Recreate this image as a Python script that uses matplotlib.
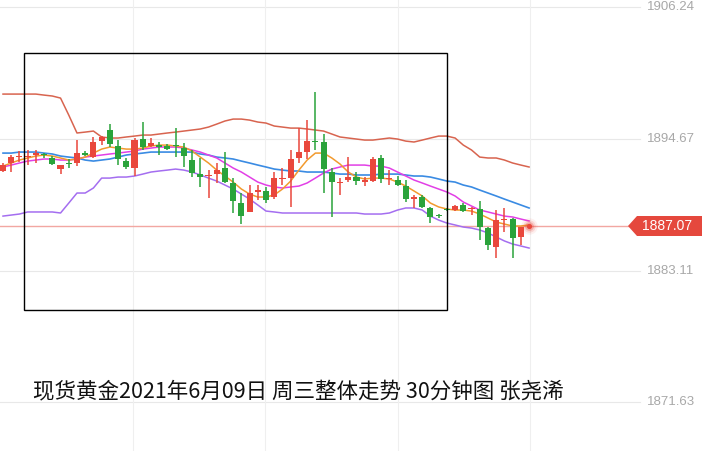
import matplotlib
matplotlib.use("Agg")
import matplotlib.pyplot as plt
from matplotlib.patches import Rectangle, Polygon

plt.rcParams['font.family'] = ['Noto Sans CJK SC', 'DejaVu Sans']

# 30分钟K线 (开, 收, 高, 低)
opens = [1891.87, 1892.57, 1893.07, 1893.09, 1893.27, 1893.27, 1893.01, 1892.04, 1892.57, 1892.57,
         1893.44, 1893.09, 1894.49, 1895.46, 1894.06, 1892.74, 1892.13, 1894.67, 1894.06, 1894.14,
         1894.06, 1894.14, 1893.88, 1892.83, 1891.60, 1891.40, 1891.60, 1892.13, 1890.82, 1889.07,
         1888.28, 1890.03, 1890.12, 1889.59, 1891.14, 1891.25, 1893.01, 1893.53, 1894.41, 1894.41,
         1891.78, 1890.86, 1891.08, 1891.34, 1890.95, 1890.99, 1893.01, 1891.13, 1891.08, 1890.55,
         1889.46, 1889.59, 1888.63, 1887.93, 1888.54, 1888.45, 1888.89, 1888.50, 1888.54, 1886.87,
         1885.21, 1887.54, 1887.66, 1886.08]
closes = [1892.39, 1893.09, 1893.09, 1893.18, 1893.44, 1893.23, 1892.48, 1892.39, 1892.48, 1893.44,
          1893.27, 1894.41, 1894.85, 1894.23, 1892.92, 1892.22, 1894.58, 1893.97, 1894.32, 1893.97,
          1893.79, 1894.06, 1893.18, 1891.69, 1891.34, 1891.43, 1891.95, 1890.90, 1889.24, 1887.93,
          1889.94, 1890.20, 1889.33, 1891.25, 1891.17, 1892.92, 1893.53, 1894.49, 1894.37, 1892.04,
          1890.90, 1890.90, 1891.34, 1890.99, 1890.99, 1892.92, 1891.17, 1891.17, 1890.64, 1889.42,
          1889.50, 1888.72, 1887.84, 1887.89, 1888.45, 1888.80, 1888.37, 1888.54, 1886.96, 1885.38,
          1887.58, 1887.58, 1885.99, 1886.96]
highs = [1892.57, 1893.27, 1893.62, 1893.71, 1893.71, 1893.44, 1893.18, 1892.42, 1892.92, 1894.58,
         1893.62, 1894.85, 1894.93, 1895.98, 1894.58, 1893.01, 1894.76, 1896.16, 1894.76, 1894.41,
         1894.23, 1895.63, 1894.32, 1893.71, 1893.01, 1891.95, 1892.57, 1893.53, 1891.25, 1889.94,
         1890.64, 1890.64, 1890.47, 1891.78, 1892.13, 1893.71, 1895.63, 1896.33, 1898.79, 1895.11,
         1892.13, 1891.25, 1893.09, 1891.78, 1891.34, 1893.09, 1893.27, 1891.95, 1891.43, 1891.08,
         1889.77, 1889.77, 1888.72, 1888.10, 1888.63, 1888.89, 1889.07, 1888.72, 1889.24, 1886.96,
         1888.45, 1888.63, 1887.75, 1886.99]
lows = [1891.78, 1891.78, 1892.66, 1892.39, 1892.57, 1893.01, 1892.39, 1891.60, 1892.13, 1892.30,
        1893.18, 1893.05, 1894.14, 1893.97, 1892.39, 1892.04, 1891.43, 1893.71, 1893.97, 1893.27,
        1893.71, 1893.09, 1892.22, 1891.34, 1890.47, 1889.50, 1890.82, 1890.82, 1888.19, 1887.22,
        1888.25, 1889.33, 1889.07, 1889.42, 1890.64, 1888.72, 1892.57, 1892.92, 1893.71, 1889.94,
        1887.84, 1889.77, 1890.90, 1890.64, 1890.55, 1890.90, 1890.82, 1890.64, 1890.55, 1889.15,
        1888.63, 1888.63, 1887.31, 1887.75, 1888.37, 1888.37, 1888.28, 1888.02, 1885.82, 1884.95,
        1884.25, 1886.52, 1884.25, 1885.38]

# 布林带上轨 / 中轨 / 下轨, 以及两条均线 (最后一个点为当前K线)
boll_up = [1898.61, 1898.61, 1898.61, 1898.61, 1898.61, 1898.52, 1898.44, 1898.26, 1896.77, 1895.20,
           1895.28, 1895.37, 1894.85, 1894.76, 1894.76, 1894.85, 1894.93, 1895.02, 1895.02, 1895.11,
           1895.20, 1895.28, 1895.37, 1895.46, 1895.55, 1895.72, 1895.98, 1896.25, 1896.42, 1896.42,
           1896.33, 1896.16, 1896.07, 1895.81, 1895.72, 1895.63, 1895.63, 1895.55, 1895.46, 1895.37,
           1895.11, 1894.85, 1894.76, 1894.67, 1894.58, 1894.58, 1894.67, 1894.76, 1894.67, 1894.49,
           1894.41, 1894.58, 1894.76, 1894.93, 1894.93, 1894.76, 1894.14, 1893.71, 1893.09, 1893.01,
           1893.01, 1892.83, 1892.57, 1892.39, 1892.22]
boll_mid = [1893.44, 1893.44, 1893.53, 1893.53, 1893.53, 1893.44, 1893.36, 1893.18, 1893.09, 1893.01,
            1892.83, 1892.74, 1892.83, 1892.92, 1893.09, 1893.27, 1893.36, 1893.44, 1893.53, 1893.53,
            1893.53, 1893.53, 1893.53, 1893.53, 1893.36, 1893.27, 1893.09, 1893.01, 1892.92, 1892.74,
            1892.57, 1892.39, 1892.22, 1892.04, 1891.95, 1891.87, 1891.87, 1891.78, 1891.78, 1891.78,
            1891.69, 1891.60, 1891.60, 1891.52, 1891.52, 1891.52, 1891.60, 1891.60, 1891.60, 1891.52,
            1891.43, 1891.43, 1891.34, 1891.17, 1890.99, 1890.90, 1890.64, 1890.47, 1890.20, 1889.94,
            1889.68, 1889.41, 1889.15, 1888.89, 1888.63]
boll_low = [1887.92, 1888.01, 1888.10, 1888.28, 1888.28, 1888.28, 1888.28, 1888.19, 1889.06, 1889.94,
            1889.94, 1890.38, 1891.25, 1891.25, 1891.34, 1891.34, 1891.43, 1891.60, 1891.78, 1891.87,
            1891.95, 1892.04, 1891.95, 1891.78, 1891.52, 1891.25, 1890.99, 1890.64, 1890.29, 1889.85,
            1889.41, 1888.89, 1888.36, 1888.28, 1888.19, 1888.19, 1888.19, 1888.19, 1888.19, 1888.19,
            1888.19, 1888.19, 1888.19, 1888.19, 1888.10, 1888.10, 1888.10, 1888.19, 1888.45, 1888.63,
            1888.63, 1888.45, 1887.92, 1887.57, 1887.31, 1887.14, 1886.96, 1886.87, 1886.70, 1886.44,
            1886.09, 1885.74, 1885.47, 1885.30, 1885.12]
ma_fast = [1892.30, 1892.57, 1892.83, 1893.01, 1893.18, 1893.27, 1893.18, 1893.01, 1892.83, 1892.92,
           1893.09, 1893.44, 1893.79, 1893.97, 1893.88, 1893.79, 1893.79, 1893.88, 1894.06, 1894.14,
           1894.14, 1894.06, 1893.97, 1893.62, 1893.09, 1892.57, 1891.95, 1891.43, 1890.90, 1890.29,
           1889.85, 1889.59, 1889.59, 1889.77, 1890.29, 1890.99, 1891.95, 1892.83, 1893.44, 1893.44,
           1893.01, 1892.48, 1891.78, 1891.34, 1891.17, 1891.25, 1891.25, 1891.17, 1890.90, 1890.55,
           1890.12, 1889.68, 1889.06, 1888.72, 1888.54, 1888.45, 1888.45, 1888.36, 1888.10, 1887.75,
           1887.40, 1887.22, 1887.05, 1887.05, 1887.14]
ma_slow = [1892.22, 1892.39, 1892.57, 1892.74, 1892.83, 1892.92, 1892.92, 1892.83, 1892.83, 1892.92,
           1893.09, 1893.18, 1893.27, 1893.36, 1893.44, 1893.53, 1893.62, 1893.79, 1893.88, 1893.97,
           1893.97, 1893.97, 1893.88, 1893.71, 1893.53, 1893.27, 1893.01, 1892.57, 1892.13, 1891.78,
           1891.34, 1890.90, 1890.64, 1890.47, 1890.38, 1890.47, 1890.55, 1890.82, 1891.25, 1891.69,
           1892.04, 1892.22, 1892.39, 1892.39, 1892.39, 1892.30, 1892.30, 1892.13, 1891.78, 1891.43,
           1891.08, 1890.82, 1890.55, 1890.29, 1890.03, 1889.68, 1889.15, 1888.80, 1888.45, 1888.28,
           1888.10, 1887.92, 1887.84, 1887.66, 1887.49]

last_price = 1887.07
tick_prices = [1906.24, 1894.67, 1883.11, 1871.63]
tick_labels = ["1906.24", "1894.67", "1883.11", "1871.63"]
title = "现货黄金2021年6月09日 周三整体走势 30分钟图 张尧浠"

RED = "#e9473c"
GREEN = "#2aa33b"

W, H = 704, 451
fig = plt.figure(figsize=(W / 100, H / 100), dpi=100)
ax = fig.add_axes([0, 0, 1, 1])

# 像素 -> 坐标
step = 8.22
ppu = 395 / (tick_prices[0] - tick_prices[3])
ax.set_xlim(-3 / step, (W - 3) / step)
ax.set_ylim(tick_prices[0] - (H - 7) / ppu, tick_prices[0] + 7 / ppu)
ax.axis("off")

# 网格
for p in tick_prices:
    ax.axhline(p, xmax=640 / W, color="#e8e8e8", lw=0.8, zorder=0)
for gx in [133, 265, 398, 530]:
    ax.axvline((gx - 3) / step, color="#efefef", lw=0.8, zorder=0)

# 当前价格线
ax.axhline(last_price, xmax=630 / W, color="#f2a7a2", lw=1, zorder=1)

# 均线和布林带
xs = list(range(len(boll_up)))
ax.plot(xs, boll_up, color="#d8644f", lw=1.1, zorder=2)
ax.plot(xs, boll_low, color="#a46ef0", lw=1.1, zorder=2)
ax.plot(xs, boll_mid, color="#3a8be3", lw=1.2, zorder=2)
ax.plot(xs, ma_slow, color="#e23fe6", lw=1.1, zorder=2)
ax.plot(xs, ma_fast, color="#f29a2e", lw=1.1, zorder=2)

# K线
for i, (o, c, h, l) in enumerate(zip(opens, closes, highs, lows)):
    col = RED if c >= o else GREEN
    ax.vlines(i, l, h, color=col, lw=1.1, zorder=3)
    lo = min(o, c)
    ht = max(abs(c - o), 0.09)
    ax.bar(i, ht, bottom=lo, width=0.74, color=col, lw=0, zorder=4)

# 当前价格点
n = len(boll_up) - 1
for s, a in [(140, 0.08), (80, 0.15), (40, 0.3)]:
    ax.scatter([n], [last_price], s=s, color=RED, alpha=a, lw=0, zorder=5)
ax.scatter([n], [last_price], s=14, color=RED, lw=0, zorder=6)

# 右侧价格标签
for p, t in zip(tick_prices, tick_labels):
    ax.text(668 / step, p, t, ha="center", va="center", fontsize=9.5,
            color="#a8a8a8", family=["Liberation Sans", "DejaVu Sans"], zorder=6)

# 覆盖层 (像素坐标)
ov = fig.add_axes([0, 0, 1, 1])
ov.set_xlim(0, W)
ov.set_ylim(H, 0)
ov.axis("off")
ov.patch.set_alpha(0)

ov.add_patch(Rectangle((24, 53), 423, 257, fill=False, ec="black", lw=1.0, zorder=7))
ty = 226
ov.add_patch(Polygon([(628, ty), (637, ty - 10), (702, ty - 10), (702, ty + 10), (637, ty + 10)],
                     closed=True, fc="#e5483d", ec="none", zorder=7))
ov.text(667, ty, f"{last_price:.2f}", ha="center", va="center", fontsize=10, color="white",
        family=["Liberation Sans", "DejaVu Sans"], zorder=8)

ov.text(33, 392, title, ha="left", va="center", fontsize=15.5, color="#111111", zorder=8)

fig.savefig("out.png", dpi=100)
